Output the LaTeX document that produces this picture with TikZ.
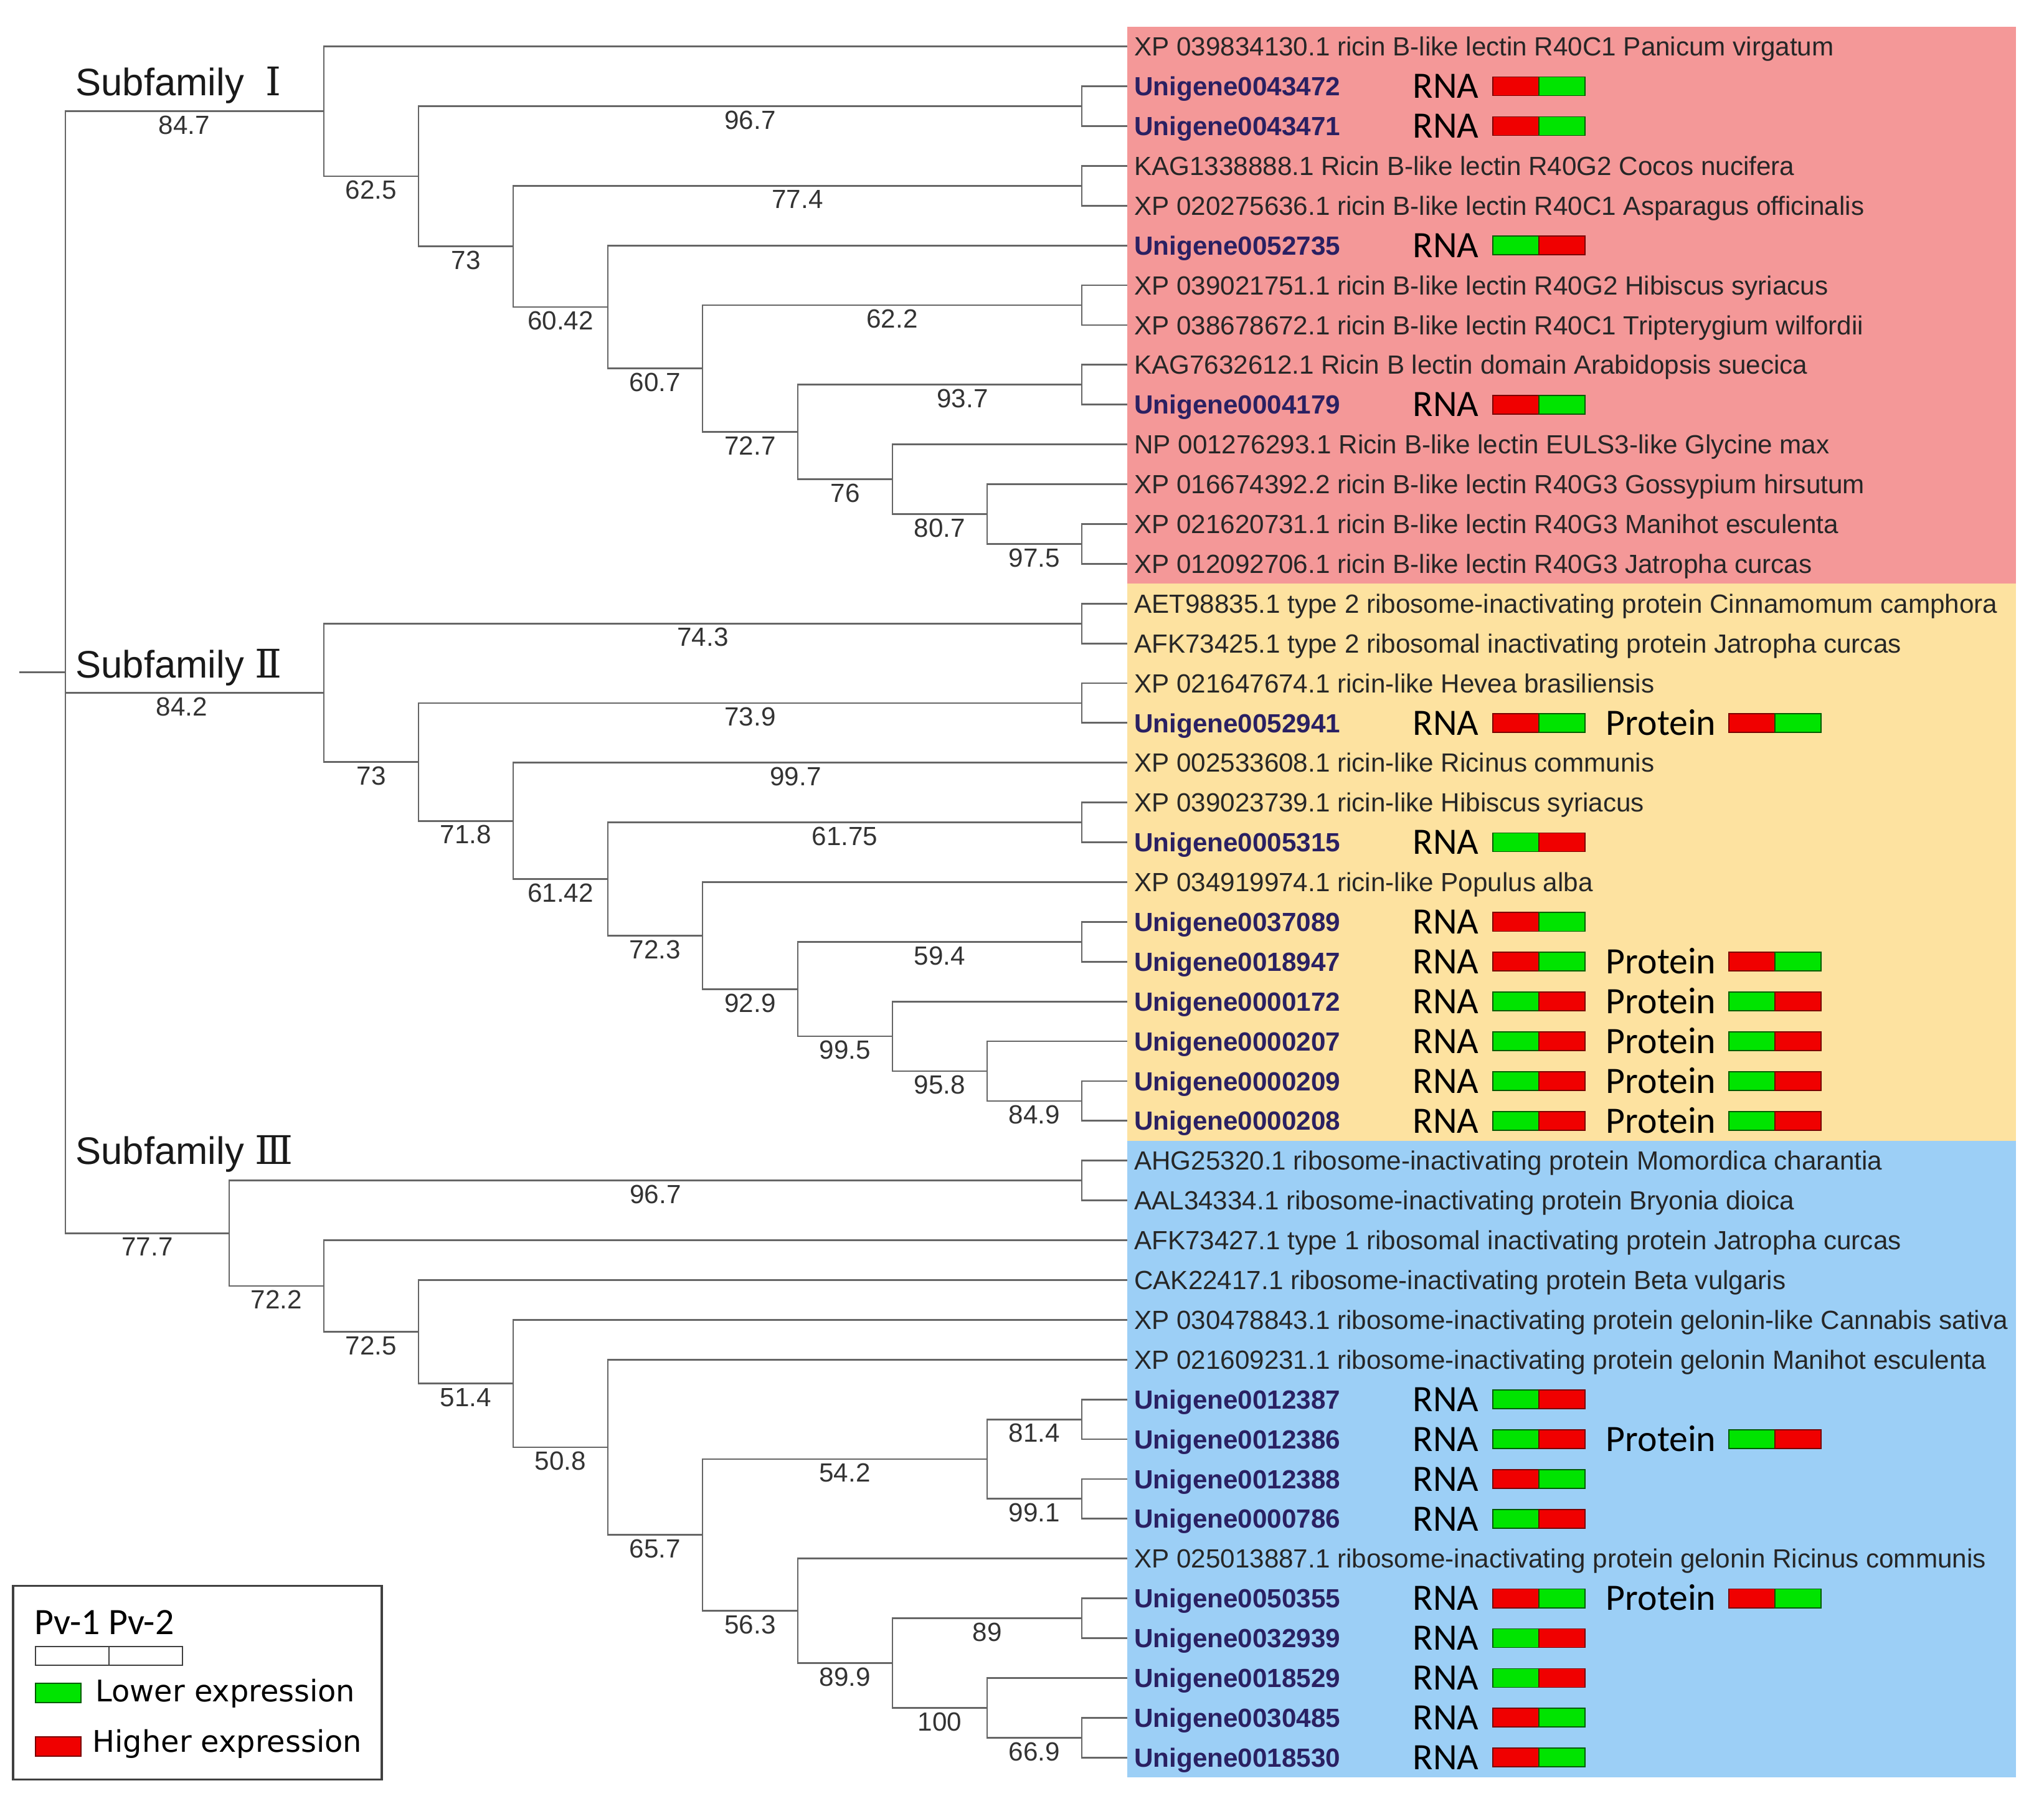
\documentclass[tikz,border=0pt]{standalone}
\usepackage{fontspec}
\usepackage{tikz}
\setmainfont{Liberation Sans}
\newfontfamily\calibri{Carlito}
\newfontfamily\dejavu{DejaVu Sans}
\newfontfamily\romfont{DejaVu Serif}
\definecolor{boxI}{RGB}{244,152,152}
\definecolor{boxII}{RGB}{253,226,160}
\definecolor{boxIII}{RGB}{156,207,246}
\definecolor{unigene}{RGB}{42,32,98}
\definecolor{hired}{RGB}{240,0,0}
\definecolor{logreen}{RGB}{0,228,0}
\tikzset{
  branch/.style={draw=black!60, line width=0.8pt},
  leaf/.style={anchor=west, inner xsep=3pt, inner ysep=0pt, text height=8.6pt, text depth=0pt,
    font=\fontsize{12}{14}\selectfont, text=black!85},
  uni/.style={leaf, font=\fontsize{12}{14}\selectfont\bfseries, text=unigene},
  bs/.style={below=1.7pt, inner sep=0pt, font=\fontsize{12}{14}\selectfont, text=black!80},
  fam/.style={anchor=base west, inner sep=0pt, font=\fontsize{17.5}{20}\selectfont, text=black!90},
  num/.style={font=\romfont\fontsize{18}{20}\selectfont},
  expr/.style={anchor=west, inner sep=0pt, text height=10.9pt, text depth=0pt,
    font=\calibri\fontsize{17}{20}\selectfont},
  hi/.style={fill=hired, draw=hired!50!black, line width=0.5pt},
  lo/.style={fill=logreen, draw=logreen!40!black, line width=0.5pt},
  legtxt/.style={anchor=base west, inner sep=0pt, font=\dejavu\fontsize{13.6}{16}\selectfont}
}
\newcommand{\rna}[3]{%
  \node[expr] (rna#1) at (2268,#1) {RNA};
  \draw[#2] (2397,#1-.235) rectangle (2471,#1+.235);
  \draw[#3] (2471,#1-.235) rectangle (2545,#1+.235);}
\newcommand{\prot}[3]{%
  \node[expr] (prot#1) at (2578,#1) {Protein};
  \draw[#2] (2776,#1-.235) rectangle (2850,#1+.235);
  \draw[#3] (2850,#1-.235) rectangle (2924,#1+.235);}

\begin{document}
\begin{tikzpicture}[x=0.01cm, y=-0.6386cm]
  \useasboundingbox (0,-1.168) rectangle (3282,44.088);
  \fill[boxI] (1810,-0.5) rectangle (3237,13.5);
  \fill[boxII] (1810,13.5) rectangle (3237,27.5);
  \fill[boxIII] (1810,27.5) rectangle (3237,43.5);

  \node[leaf] (xp039834130) at (1810,0) {XP 039834130.1 ricin B-like lectin R40C1 Panicum virgatum};
  \node[uni] (u0043472) at (1810,1) {Unigene0043472};
  \node[uni] (u0043471) at (1810,2) {Unigene0043471};
  \node[leaf] (kag1338888) at (1810,3) {KAG1338888.1 Ricin B-like lectin R40G2 Cocos nucifera};
  \node[leaf] (xp020275636) at (1810,4) {XP 020275636.1 ricin B-like lectin R40C1 Asparagus officinalis};
  \node[uni] (u0052735) at (1810,5) {Unigene0052735};
  \node[leaf] (xp039021751) at (1810,6) {XP 039021751.1 ricin B-like lectin R40G2 Hibiscus syriacus};
  \node[leaf] (xp038678672) at (1810,7) {XP 038678672.1 ricin B-like lectin R40C1 Tripterygium wilfordii};
  \node[leaf] (kag7632612) at (1810,8) {KAG7632612.1 Ricin B lectin domain Arabidopsis suecica};
  \node[uni] (u0004179) at (1810,9) {Unigene0004179};
  \node[leaf] (np001276293) at (1810,10) {NP 001276293.1 Ricin B-like lectin EULS3-like Glycine max};
  \node[leaf] (xp016674392) at (1810,11) {XP 016674392.2 ricin B-like lectin R40G3 Gossypium hirsutum};
  \node[leaf] (xp021620731) at (1810,12) {XP 021620731.1 ricin B-like lectin R40G3 Manihot esculenta};
  \node[leaf] (xp012092706) at (1810,13) {XP 012092706.1 ricin B-like lectin R40G3 Jatropha curcas};
  \node[leaf] (aet98835) at (1810,14) {AET98835.1 type 2 ribosome-inactivating protein Cinnamomum camphora};
  \node[leaf] (afk73425) at (1810,15) {AFK73425.1 type 2 ribosomal inactivating protein Jatropha curcas};
  \node[leaf] (xp021647674) at (1810,16) {XP 021647674.1 ricin-like Hevea brasiliensis};
  \node[uni] (u0052941) at (1810,17) {Unigene0052941};
  \node[leaf] (xp002533608) at (1810,18) {XP 002533608.1 ricin-like Ricinus communis};
  \node[leaf] (xp039023739) at (1810,19) {XP 039023739.1 ricin-like Hibiscus syriacus};
  \node[uni] (u0005315) at (1810,20) {Unigene0005315};
  \node[leaf] (xp034919974) at (1810,21) {XP 034919974.1 ricin-like Populus alba};
  \node[uni] (u0037089) at (1810,22) {Unigene0037089};
  \node[uni] (u0018947) at (1810,23) {Unigene0018947};
  \node[uni] (u0000172) at (1810,24) {Unigene0000172};
  \node[uni] (u0000207) at (1810,25) {Unigene0000207};
  \node[uni] (u0000209) at (1810,26) {Unigene0000209};
  \node[uni] (u0000208) at (1810,27) {Unigene0000208};
  \node[leaf] (ahg25320) at (1810,28) {AHG25320.1 ribosome-inactivating protein Momordica charantia};
  \node[leaf] (aal34334) at (1810,29) {AAL34334.1 ribosome-inactivating protein Bryonia dioica};
  \node[leaf] (afk73427) at (1810,30) {AFK73427.1 type 1 ribosomal inactivating protein Jatropha curcas};
  \node[leaf] (cak22417) at (1810,31) {CAK22417.1 ribosome-inactivating protein Beta vulgaris};
  \node[leaf] (xp030478843) at (1810,32) {XP 030478843.1 ribosome-inactivating protein gelonin-like Cannabis sativa};
  \node[leaf] (xp021609231) at (1810,33) {XP 021609231.1 ribosome-inactivating protein gelonin Manihot esculenta};
  \node[uni] (u0012387) at (1810,34) {Unigene0012387};
  \node[uni] (u0012386) at (1810,35) {Unigene0012386};
  \node[uni] (u0012388) at (1810,36) {Unigene0012388};
  \node[uni] (u0000786) at (1810,37) {Unigene0000786};
  \node[leaf] (xp025013887) at (1810,38) {XP 025013887.1 ribosome-inactivating protein gelonin Ricinus communis};
  \node[uni] (u0050355) at (1810,39) {Unigene0050355};
  \node[uni] (u0032939) at (1810,40) {Unigene0032939};
  \node[uni] (u0018529) at (1810,41) {Unigene0018529};
  \node[uni] (u0030485) at (1810,42) {Unigene0030485};
  \node[uni] (u0018530) at (1810,43) {Unigene0018530};

  \coordinate (a975) at (1737,12.5);
  \coordinate (a807) at (1585,11.75);
  \coordinate (a76) at (1433,10.875);
  \coordinate (a937) at (1737,8.5);
  \coordinate (a727) at (1281,9.6875);
  \coordinate (a622) at (1737,6.5);
  \coordinate (a607) at (1128,8.09375);
  \coordinate (a6042) at (976,6.546875);
  \coordinate (a774) at (1737,3.5);
  \coordinate (a73) at (824,5.0234375);
  \coordinate (a967) at (1737,1.5);
  \coordinate (a625) at (672,3.26171875);
  \coordinate (a847) at (520,1.630859375);

  \coordinate (b849) at (1737,26.5);
  \coordinate (b958) at (1585,25.75);
  \coordinate (b995) at (1433,24.875);
  \coordinate (b594) at (1737,22.5);
  \coordinate (b929) at (1281,23.6875);
  \coordinate (b723) at (1128,22.34375);
  \coordinate (b6175) at (1737,19.5);
  \coordinate (b6142) at (976,20.921875);
  \coordinate (b718) at (824,19.4609375);
  \coordinate (b739) at (1737,16.5);
  \coordinate (b73) at (672,17.98046875);
  \coordinate (b743) at (1737,14.5);
  \coordinate (b842) at (520,16.240234375);

  \coordinate (c669) at (1737,42.5);
  \coordinate (c100) at (1585,41.75);
  \coordinate (c89) at (1737,39.5);
  \coordinate (c899) at (1433,40.625);
  \coordinate (c563) at (1281,39.3125);
  \coordinate (c814) at (1737,34.5);
  \coordinate (c991) at (1737,36.5);
  \coordinate (c542) at (1585,35.5);
  \coordinate (c657) at (1128,37.40625);
  \coordinate (c508) at (976,35.203125);
  \coordinate (c514) at (824,33.6015625);
  \coordinate (c725) at (672,32.30078125);
  \coordinate (c722) at (520,31.150390625);
  \coordinate (c967) at (1737,28.5);
  \coordinate (c777) at (368,29.8251953125);

  \coordinate (root) at (105,15.72802734375);
  \coordinate (stub) at (31,15.72802734375);

  \draw[branch] (stub) -- (root);
  \draw[branch] (a847) -| node[bs,pos=.27]{84.7} (root) |- node[bs,pos=.75]{77.7} (c777);
  \draw[branch] (b842 -| root) -- node[bs,pos=.45]{84.2} (b842);

  \draw[branch] (xp039834130) -| (a847) |- node[bs,pos=.75]{62.5} (a625);
  \draw[branch] (a967) -| node[bs,pos=.25]{96.7} (a625) |- node[bs,pos=.75]{73} (a73);
  \draw[branch] (u0043472) -| (a967) |- (u0043471);
  \draw[branch] (a774) -| node[bs,pos=.25]{77.4} (a73) |- node[bs,pos=.75]{60.42} (a6042);
  \draw[branch] (kag1338888) -| (a774) |- (xp020275636);
  \draw[branch] (u0052735) -| (a6042) |- node[bs,pos=.75]{60.7} (a607);
  \draw[branch] (a622) -| node[bs,pos=.25]{62.2} (a607) |- node[bs,pos=.75]{72.7} (a727);
  \draw[branch] (xp039021751) -| (a622) |- (xp038678672);
  \draw[branch] (a937) -| node[bs,pos=.21]{93.7} (a727) |- node[bs,pos=.75]{76} (a76);
  \draw[branch] (kag7632612) -| (a937) |- (u0004179);
  \draw[branch] (np001276293) -| (a76) |- node[bs,pos=.75]{80.7} (a807);
  \draw[branch] (xp016674392) -| (a807) |- node[bs,pos=.75]{97.5} (a975);
  \draw[branch] (xp021620731) -| (a975) |- (xp012092706);

  \draw[branch] (b743) -| node[bs,pos=.25]{74.3} (b842) |- node[bs,pos=.75]{73} (b73);
  \draw[branch] (aet98835) -| (b743) |- (afk73425);
  \draw[branch] (b739) -| node[bs,pos=.25]{73.9} (b73) |- node[bs,pos=.75]{71.8} (b718);
  \draw[branch] (xp021647674) -| (b739) |- (u0052941);
  \draw[branch] (xp002533608) -| node[bs,pos=.27]{99.7} (b718) |- node[bs,pos=.75]{61.42} (b6142);
  \draw[branch] (b6175) -| node[bs,pos=.25]{61.75} (b6142) |- node[bs,pos=.75]{72.3} (b723);
  \draw[branch] (xp039023739) -| (b6175) |- (u0005315);
  \draw[branch] (xp034919974) -| (b723) |- node[bs,pos=.75]{92.9} (b929);
  \draw[branch] (b594) -| node[bs,pos=.25]{59.4} (b929) |- node[bs,pos=.75]{99.5} (b995);
  \draw[branch] (u0037089) -| (b594) |- (u0018947);
  \draw[branch] (u0000172) -| (b995) |- node[bs,pos=.75]{95.8} (b958);
  \draw[branch] (u0000207) -| (b958) |- node[bs,pos=.75]{84.9} (b849);
  \draw[branch] (u0000209) -| (b849) |- (u0000208);

  \draw[branch] (c967) -| node[bs,pos=.25]{96.7} (c777) |- node[bs,pos=.75]{72.2} (c722);
  \draw[branch] (ahg25320) -| (c967) |- (aal34334);
  \draw[branch] (afk73427) -| (c722) |- node[bs,pos=.75]{72.5} (c725);
  \draw[branch] (cak22417) -| (c725) |- node[bs,pos=.75]{51.4} (c514);
  \draw[branch] (xp030478843) -| (c514) |- node[bs,pos=.75]{50.8} (c508);
  \draw[branch] (xp021609231) -| (c508) |- node[bs,pos=.75]{65.7} (c657);
  \draw[branch] (c542) -| node[bs,pos=.25]{54.2} (c657) |- node[bs,pos=.75]{56.3} (c563);
  \draw[branch] (c814) -| node[bs,pos=.25]{81.4} (c542) |- node[bs,pos=.75]{99.1} (c991);
  \draw[branch] (u0012387) -| (c814) |- (u0012386);
  \draw[branch] (u0012388) -| (c991) |- (u0000786);
  \draw[branch] (xp025013887) -| (c563) |- node[bs,pos=.75]{89.9} (c899);
  \draw[branch] (c89) -| node[bs,pos=.25]{89} (c899) |- node[bs,pos=.75]{100} (c100);
  \draw[branch] (u0050355) -| (c89) |- (u0032939);
  \draw[branch] (u0018529) -| (c100) |- node[bs,pos=.75]{66.9} (c669);
  \draw[branch] (u0030485) -| (c669) |- (u0018530);

  \node[fam] (famI) at (121,1.229) {Subfamily\ \ {\romfont\fontsize{18}{20}\selectfont Ⅰ}};
  \node[fam] (famII) at (121,15.87) {Subfamily\ {\romfont\fontsize{18}{20}\selectfont Ⅱ}};
  \node[fam] (famIII) at (121,28.09) {Subfamily\ {\romfont\fontsize{18}{20}\selectfont Ⅲ}};

  \rna{1}{hi}{lo}
  \rna{2}{hi}{lo}
  \rna{5}{lo}{hi}
  \rna{9}{hi}{lo}
  \rna{17}{hi}{lo} \prot{17}{hi}{lo}
  \rna{20}{lo}{hi}
  \rna{22}{hi}{lo}
  \rna{23}{hi}{lo} \prot{23}{hi}{lo}
  \rna{24}{lo}{hi} \prot{24}{lo}{hi}
  \rna{25}{lo}{hi} \prot{25}{lo}{hi}
  \rna{26}{lo}{hi} \prot{26}{lo}{hi}
  \rna{27}{lo}{hi} \prot{27}{lo}{hi}
  \rna{34}{lo}{hi}
  \rna{35}{lo}{hi} \prot{35}{lo}{hi}
  \rna{36}{hi}{lo}
  \rna{37}{lo}{hi}
  \rna{39}{hi}{lo} \prot{39}{hi}{lo}
  \rna{40}{lo}{hi}
  \rna{41}{lo}{hi}
  \rna{42}{hi}{lo}
  \rna{43}{hi}{lo}

  \draw[draw=black!75, line width=0.9pt] (21,38.69) rectangle (613,43.55);
  \node[anchor=base west, inner sep=0pt, font=\calibri\fontsize{17}{20}\selectfont] (pv) at (55,39.9) {Pv-1 Pv-2};
  \draw[draw=black!75, line width=0.6pt] (57,40.21) rectangle (175,40.68) (175,40.21) rectangle (293,40.68);
  \draw[lo] (57,41.13) rectangle (130,41.62);
  \node[legtxt] (lower) at (153,41.59) {Lower expression};
  \draw[hi] (57,42.48) rectangle (130,42.97);
  \node[legtxt] (higher) at (148,42.87) {Higher expression};
\end{tikzpicture}
\end{document}
